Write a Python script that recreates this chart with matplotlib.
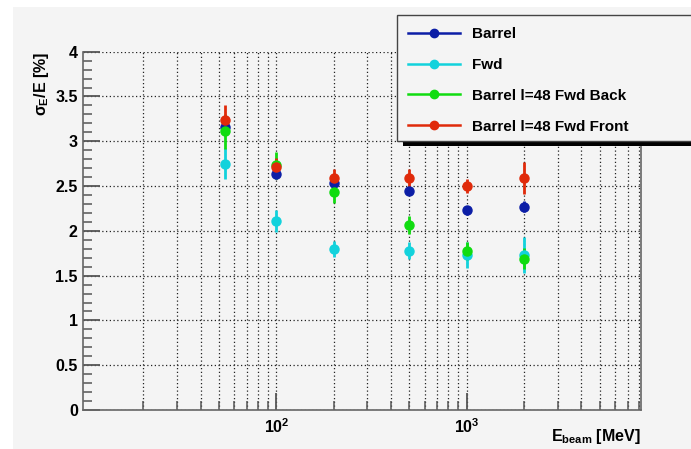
import matplotlib.pyplot as plt
from matplotlib.lines import Line2D
from matplotlib.patches import Rectangle
from matplotlib.ticker import FixedLocator, LogLocator, MultipleLocator, NullFormatter

plt.rcParams['font.family'] = ['Liberation Sans', 'DejaVu Sans']
plt.rcParams['font.weight'] = 'bold'
plt.rcParams['mathtext.fontset'] = 'custom'
plt.rcParams['mathtext.rm'] = 'Liberation Sans:bold'
plt.rcParams['mathtext.it'] = 'Liberation Sans:bold'
plt.rcParams['mathtext.bf'] = 'Liberation Sans:bold'

# beam energies [MeV]
energy = [54, 100, 200, 500, 1000, 2000]

# resolution sigma_E/E [%] and errors
barrel = [3.16, 2.63, 2.53, 2.45, 2.23, 2.27]
barrel_err = [0.06, 0.05, 0.05, 0.05, 0.05, 0.06]
fwd = [2.75, 2.11, 1.80, 1.78, 1.73, 1.73]
fwd_err = [0.17, 0.12, 0.09, 0.09, 0.14, 0.20]
back = [3.11, 2.73, 2.43, 2.07, 1.77, 1.69]
back_err = [0.20, 0.15, 0.12, 0.10, 0.10, 0.12]
front = [3.24, 2.71, 2.59, 2.59, 2.50, 2.59]
front_err = [0.16, 0.10, 0.10, 0.10, 0.08, 0.18]

labels = ['Barrel', 'Fwd', 'Barrel l=48 Fwd Back', 'Barrel l=48 Fwd Front']
colors = ['#0c1ea6', '#12d2dc', '#10dc10', '#e02a0a']

bg = '#f4f4f4'
W, H = 691, 449

fig = plt.figure(figsize=(W / 100, H / 100), dpi=100, facecolor='white')
fig.patches.append(Rectangle((13 / W, 0), 1, 1 - 7 / H, transform=fig.transFigure,
                             facecolor=bg, edgecolor='none', zorder=-10))

ax = fig.add_axes([82.7 / W, 1 - 410 / H, (640.7 - 82.7) / W, (410 - 51.7) / H])
ax.set_facecolor(bg)

series = [(barrel, barrel_err), (fwd, fwd_err), (back, back_err), (front, front_err)]
for (vals, errs), c in zip(series, colors):
    ax.errorbar(energy, vals, yerr=errs, fmt='o', color=c, ms=6.5, elinewidth=2,
                capsize=0, zorder=3)

ax.set_xscale('log')
ax.set_xlim(9.6, 8200)
ax.set_ylim(0, 4)
ax.xaxis.set_major_locator(FixedLocator([100, 1000]))
ax.xaxis.set_minor_locator(LogLocator(base=10, subs=range(2, 10)))
ax.xaxis.set_minor_formatter(NullFormatter())
ax.yaxis.set_minor_locator(MultipleLocator(0.1))
ax.set_yticks([0, 0.5, 1, 1.5, 2, 2.5, 3, 3.5, 4])
ax.set_yticklabels(['0', '0.5', '1', '1.5', '2', '2.5', '3', '3.5', '4'])

grid_kw = dict(color='#222222', linestyle=(0, (1, 2)), linewidth=0.9)
ax.grid(True, which='major', axis='y', **grid_kw)
ax.grid(True, which='both', axis='x', **grid_kw)
ax.set_axisbelow(True)

ax.tick_params(which='both', direction='in', colors='#555555', labelcolor='black',
               labelsize=11.5, top=False, right=False)
ax.tick_params(which='major', length=12, width=1.3)
ax.tick_params(which='minor', length=6.5, width=1.1)
ax.tick_params(axis='x', pad=5)
for s in ['left', 'bottom', 'right']:
    ax.spines[s].set_color('#666666')
    ax.spines[s].set_linewidth(1.2)
ax.spines['top'].set_visible(False)

ax.set_ylabel(r'$\sigma_{E}$/E [%]', fontsize=11.5, fontweight='bold',
              loc='top', labelpad=3)
fig.text(640.7 / W, 1 - 437 / H, r'E$_{\mathrm{beam}}$ [MeV]', fontsize=11.5,
         fontweight='bold', ha='right', va='center')

# legend box with offset shadow running off the right edge
x0, y0, y1 = 396.7, 15, 140.7
fig.patches.append(Rectangle(((x0 + 6) / W, 1 - (y1 + 5.5) / H), 1, (y1 - y0) / H,
                             transform=fig.transFigure, facecolor='black',
                             edgecolor='none', zorder=5))
fig.patches.append(Rectangle((x0 / W, 1 - y1 / H), 1, (y1 - y0) / H,
                             transform=fig.transFigure, facecolor=bg,
                             edgecolor='#444444', linewidth=1.0, zorder=6))
handles = [Line2D([], [], color=c, marker='o', ms=6, lw=1.8) for c in colors]
leg = fig.legend(handles, labels, loc='upper left',
                 bbox_to_anchor=(402 / W, 1 - 21 / H), frameon=False,
                 fontsize=11, handlelength=3.4, handletextpad=0.8,
                 labelspacing=1.1, borderaxespad=0)
leg.set_zorder(7)

fig.savefig('out.png', dpi=100, facecolor='white')
